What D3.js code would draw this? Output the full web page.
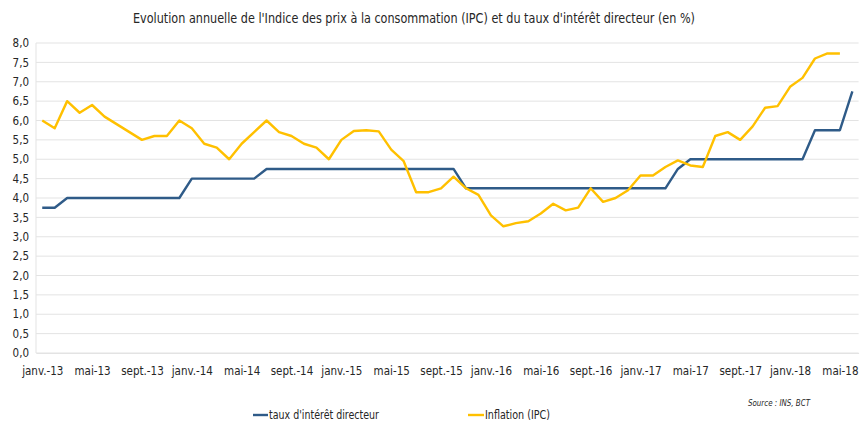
<!DOCTYPE html>
<html>
<head>
<meta charset="utf-8">
<script src="https://cdn.jsdelivr.net/npm/d3@7"></script>
<style>
  body { margin: 0; background: #fff; }
  text { font-family: "Liberation Sans Narrow", "DejaVu Sans Condensed", "Open Sans", sans-serif; fill: #262626; }
</style>
</head>
<body>
<div id="chart"></div>
<script>
// Size of the page
let w = 864;
let h = 421;
// Plot area edges
let plotLeft = 36;
let plotRight = 858.6;
let plotTop = 43;
let plotBottom = 353;

// Month names and years used for the category axis
let monthNames = ["janv.", "févr.", "mars", "avr.", "mai", "juin", "juil.", "août", "sept.", "oct.", "nov.", "déc."];
let years = ["13", "14", "15", "16", "17", "18"];
let categories = [];
years.forEach(function(y){
    monthNames.forEach(function(m){ categories.push(m + "-" + y); });
});
categories = categories.slice(0, 66); // janv.-13 .. juin-18

// Policy rate (taux d'intérêt directeur)
let tauxDirecteur = [3.75, 3.75, 4.0, 4.0, 4.0, 4.0, 4.0, 4.0, 4.0, 4.0, 4.0, 4.0,
    4.5, 4.5, 4.5, 4.5, 4.5, 4.5, 4.75, 4.75, 4.75, 4.75, 4.75, 4.75,
    4.75, 4.75, 4.75, 4.75, 4.75, 4.75, 4.75, 4.75, 4.75, 4.75, 4.25, 4.25,
    4.25, 4.25, 4.25, 4.25, 4.25, 4.25, 4.25, 4.25, 4.25, 4.25, 4.25, 4.25,
    4.25, 4.25, 4.25, 4.75, 5.0, 5.0, 5.0, 5.0, 5.0, 5.0, 5.0, 5.0,
    5.0, 5.0, 5.75, 5.75, 5.75, 6.75];
// Inflation (IPC), no value for the last month
let inflation = [6.0, 5.8, 6.5, 6.2, 6.4, 6.1, 5.9, 5.7, 5.5, 5.6, 5.6, 6.0,
    5.8, 5.4, 5.3, 5.0, 5.4, 5.7, 6.0, 5.7, 5.6, 5.4, 5.3, 5.0,
    5.5, 5.73, 5.75, 5.72, 5.25, 4.95, 4.15, 4.15, 4.25, 4.55, 4.25, 4.08,
    3.55, 3.27, 3.35, 3.4, 3.6, 3.85, 3.68, 3.75, 4.25, 3.9, 4.0, 4.2,
    4.58, 4.58, 4.8, 4.97, 4.84, 4.8, 5.6, 5.7, 5.5, 5.85, 6.33, 6.37,
    6.87, 7.1, 7.6, 7.73, 7.73, null];
// Y tick values
let yTicks = [0, 0.5, 1, 1.5, 2, 2.5, 3, 3.5, 4, 4.5, 5, 5.5, 6, 6.5, 7, 7.5, 8];

let svg = d3.select("#chart").append("svg")
    .attr("width", w)
    .attr("height", h);

// Scales: one band per month, point sits in the middle of its band
let xScale = d3.scalePoint()
    .domain(categories)
    .range([plotLeft, plotRight])
    .padding(0.5);
let yScale = d3.scaleLinear()
    .domain([0, 8])
    .range([plotBottom, plotTop]);

let fmt = function(v){ return d3.format(".1f")(v).replace(".", ","); };

// Horizontal gridlines
svg.append("g")
    .selectAll("line")
    .data(yTicks)
    .enter()
    .append("line")
    .attr("x1", plotLeft)
    .attr("x2", plotRight)
    .attr("y1", function(d){ return yScale(d); })
    .attr("y2", function(d){ return yScale(d); })
    .attr("stroke", "#e3e3e3")
    .attr("stroke-width", 1);

// Left axis line
svg.append("line")
    .attr("x1", plotLeft).attr("x2", plotLeft)
    .attr("y1", plotTop).attr("y2", plotBottom)
    .attr("stroke", "#e3e3e3");

// Y axis labels
let yAxis = d3.axisLeft(yScale)
    .tickValues(yTicks)
    .tickFormat(fmt)
    .tickSize(0)
    .tickPadding(7);
svg.append("g")
    .attr("transform", "translate(" + plotLeft + ",0)")
    .call(yAxis)
    .call(function(g){ g.select(".domain").remove(); })
    .selectAll("text")
    .attr("font-size", "11.5px")
    .attr("fill", "#404040");

// X axis labels, every 4 months
let xAxis = d3.axisBottom(xScale)
    .tickValues(categories.filter(function(d, i){ return i % 4 === 0; }))
    .tickSize(0)
    .tickPadding(14);
svg.append("g")
    .attr("transform", "translate(0," + plotBottom + ")")
    .call(xAxis)
    .call(function(g){ g.select(".domain").attr("stroke", "#e3e3e3"); })
    .selectAll("text")
    .attr("font-size", "11.5px")
    .attr("fill", "#404040");

// Lines
let line = d3.line()
    .defined(function(d){ return d != null; })
    .x(function(d, i){ return xScale(categories[i]); })
    .y(function(d){ return yScale(d); });

svg.append("path")
    .datum(tauxDirecteur)
    .attr("d", line)
    .attr("fill", "none")
    .attr("stroke", "#2f5b88")
    .attr("stroke-width", 2.4)
    .attr("stroke-linejoin", "round");

svg.append("path")
    .datum(inflation)
    .attr("d", line)
    .attr("fill", "none")
    .attr("stroke", "#ffc000")
    .attr("stroke-width", 2.4)
    .attr("stroke-linejoin", "round");

// Title (narrow font in the original, squeezed to the same width)
svg.append("text")
    .text("Evolution annuelle de l'Indice des prix à la consommation (IPC) et du taux d'intérêt directeur (en %)")
    .attr("x", 133)
    .attr("y", 23)
    .attr("textLength", 562)
    .attr("lengthAdjust", "spacingAndGlyphs")
    .attr("font-size", "14.5px");

// Legend
let legend = svg.append("g");
legend.append("line")
    .attr("x1", 253).attr("x2", 268)
    .attr("y1", 415).attr("y2", 415)
    .attr("stroke", "#2f5b88").attr("stroke-width", 2.4);
legend.append("text")
    .attr("x", 269).attr("y", 419)
    .attr("font-size", "12px")
    .attr("textLength", 110)
    .attr("lengthAdjust", "spacingAndGlyphs")
    .text("taux d'intérêt directeur");
legend.append("line")
    .attr("x1", 468).attr("x2", 484)
    .attr("y1", 415).attr("y2", 415)
    .attr("stroke", "#ffc000").attr("stroke-width", 2.4);
legend.append("text")
    .attr("x", 485).attr("y", 419)
    .attr("font-size", "12px")
    .attr("textLength", 65)
    .attr("lengthAdjust", "spacingAndGlyphs")
    .text("Inflation (IPC)");

// Source note
svg.append("text")
    .attr("x", 748).attr("y", 406)
    .attr("font-size", "9px")
    .attr("font-style", "italic")
    .attr("textLength", 62)
    .attr("lengthAdjust", "spacingAndGlyphs")
    .text("Source : INS, BCT");
</script>
</body>
</html>
